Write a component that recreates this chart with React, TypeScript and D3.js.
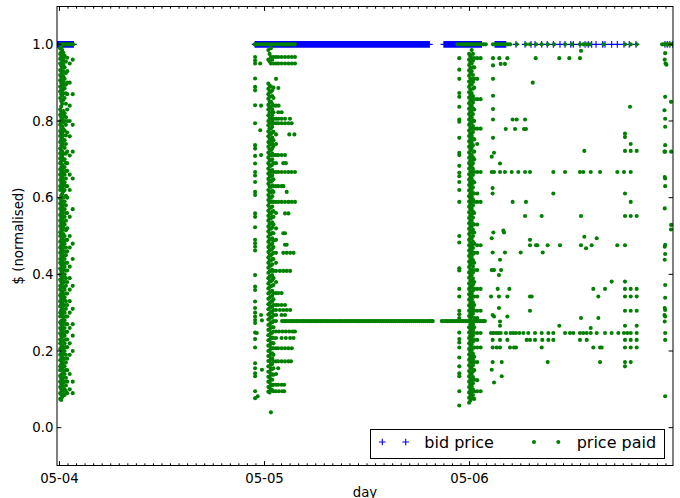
import React, { useEffect } from "react";
import * as d3 from "d3";

// ---------- axis / labels ----------
const dayLabels = ["05-04", "05-05", "05-06"];
const dayHours = [0, 24, 48];
const yTicks = [0.0, 0.2, 0.4, 0.6, 0.8, 1.0];
const xDomain: [number, number] = [-0.29, 71.82]; // hours since 05-04 00:00
const yDomain: [number, number] = [-0.1, 1.1];

// ---------- bid price (all at 1.0 normalised), times in hours ----------
const bidValue = 1.0;
const bidTimesA = [-0.29, -0.2, -0.08, 0.03, 0.15, 0.27, 0.38, 0.5, 0.6, 0.72, 0.83, 0.94, 1.05, 1.17, 1.28, 1.4, 1.5, 1.57, 1.63];
const bidTimesB = [22.9, 23.1, 23.32, 23.5, 23.71, 23.9, 24.12, 24.3, 24.5, 24.72, 24.9, 25.1, 25.31, 25.5, 25.7, 25.92, 26.1, 26.3, 26.52, 26.7, 26.9, 27.1, 27.33, 27.5, 27.7, 27.91, 28.1, 28.3, 28.52, 28.7, 28.9, 29.1, 29.32, 29.5, 29.7, 29.9, 30.12, 30.3, 30.5, 30.71, 30.9, 31.1, 31.3, 31.52, 31.7, 31.9, 32.1, 32.32, 32.5, 32.7, 32.9, 33.12, 33.3, 33.5, 33.71, 33.9, 34.1, 34.3, 34.52, 34.7, 34.9, 35.1, 35.32, 35.5, 35.7, 35.9, 36.12, 36.3, 36.5, 36.71, 36.9, 37.1, 37.3, 37.52, 37.7, 37.9, 38.1, 38.32, 38.5, 38.7, 38.9, 39.12, 39.3, 39.5, 39.71, 39.9, 40.1, 40.3, 40.52, 40.7, 40.9, 41.1, 41.32, 41.5, 41.7, 41.9, 42.12, 42.3, 42.5, 42.71, 42.9, 43.1, 43.3];
const bidTimesB2 = [23.0, 23.21, 23.41, 23.6, 23.8, 24.01, 24.21, 24.4, 24.61, 24.81, 25.0, 25.2, 25.41, 25.6, 25.81, 26.01, 26.2, 26.41, 26.61, 26.8, 27.0, 27.21, 27.41, 27.6, 27.8, 28.01, 28.2, 28.41, 28.61, 28.8, 29.0, 29.21, 29.41, 29.6, 29.8, 30.01, 30.21, 30.4, 30.61, 30.81, 31.0, 31.2, 31.41, 31.61, 31.8, 32.0, 32.21, 32.41, 32.6, 32.8, 33.01, 33.21, 33.4, 33.61, 33.8, 34.0, 34.2, 34.41, 34.61, 34.8, 35.0, 35.21, 35.41, 35.6, 35.8, 36.01, 36.21, 36.4, 36.61, 36.8, 37.0, 37.2, 37.41, 37.61, 37.8, 38.0, 38.21, 38.41, 38.6, 38.8, 39.01, 39.21, 39.4, 39.61, 39.8, 40.0, 40.2, 40.41, 40.61, 40.8, 41.0, 41.21, 41.41, 41.6, 41.8, 42.01, 42.21, 42.4, 42.61, 42.8, 43.0, 43.2];
const bidTimesC = [45.0, 45.2, 45.42, 45.6, 45.8, 46.0, 46.22, 46.4, 46.6, 46.81, 47.0, 47.2, 47.4, 47.62, 47.8, 48.0, 48.2, 48.41, 48.6, 48.8, 49.0, 49.22, 49.4, 50.99, 51.2, 51.41, 51.6, 51.8, 52.02, 52.24, 53.44, 54.5, 55.2, 55.67, 56.45, 57.1, 57.81, 58.59, 59.18, 59.85, 60.15, 60.93, 61.52, 61.9, 62.3, 62.81, 63.59, 63.86, 64.64, 65.3, 66.08, 66.7, 67.49];
const bidTimesC2 = [45.1, 45.31, 45.51, 45.7, 45.9, 46.11, 46.31, 46.5, 46.71, 46.9, 47.1, 47.3, 47.51, 47.71, 47.9, 48.1, 48.31, 48.5, 48.7, 48.9, 49.11, 49.31, 51.1, 51.3, 51.5, 51.7, 51.91, 52.12];
const bidTimesD = [70.88, 71.15, 71.45, 71.8];

// ---------- price paid ----------
// points sitting at 1.0
const paidTopA = [0.1, 0.35, 0.6, 0.85, 1.1, 1.35, 1.6];
const paidTopB = [22.85, 23.1, 23.35, 23.6, 23.85, 24.1, 24.35, 24.6, 24.85, 25.1, 25.35, 25.6, 25.85, 26.1, 26.35, 26.6, 26.85, 27.1, 27.35, 27.55];
const paidTopC = [46.6, 46.9, 47.15, 47.4, 47.65, 47.9, 48.15, 48.4, 48.65, 48.9, 49.15, 49.4, 49.65, 49.9, 50.75, 51.0, 51.25, 51.5, 51.75, 52.0, 52.25, 52.5, 52.75, 53.52, 54.61, 55.08, 55.78, 56.45, 57.15, 57.9, 59.18, 59.95, 60.93, 61.32, 61.72, 62.11, 63.67, 66.2, 66.87, 67.57];
const paidTopD = [70.55, 70.8, 71.05, 71.3, 71.55, 71.78];

// long run at 0.278
const lineValue = 0.278;
const paidLineB = [26.05, 26.3, 26.52, 26.75, 27.0, 27.22, 27.45, 27.7, 27.92, 28.15, 28.4, 28.62, 28.85, 29.1, 29.32, 29.55, 29.8, 30.02, 30.25, 30.5, 30.72, 30.95, 31.2, 31.42, 31.65, 31.9, 32.12, 32.35, 32.6, 32.82, 33.05, 33.3, 33.52, 33.75, 34.0, 34.22, 34.45, 34.7, 34.92, 35.15, 35.4, 35.62, 35.85, 36.1, 36.32, 36.55, 36.8, 37.02, 37.25, 37.5, 37.72, 37.95, 38.2, 38.42, 38.65, 38.9, 39.12, 39.35, 39.6, 39.82, 40.05, 40.3, 40.52, 40.75, 41.0, 41.22, 41.45, 41.7, 41.92, 42.15, 42.4, 42.62, 42.85, 43.1, 43.32, 43.55, 43.7];
const paidLineC = [44.75, 45.0, 45.22, 45.45, 45.7, 45.92, 46.15, 46.4, 46.62, 46.85, 47.1, 47.32, 47.55, 47.8, 48.02, 48.25, 48.5, 48.72, 48.95, 49.2, 49.42, 49.65, 49.8];

// dense columns: [hour, values]
const paidColsA: [number, number[]][] = [
  [0.08, [0.99, 0.975, 0.962, 0.95, 0.933, 0.92, 0.906, 0.89, 0.877, 0.86, 0.83, 0.816, 0.8, 0.79, 0.774, 0.761, 0.745, 0.728, 0.716, 0.702, 0.69, 0.674, 0.66, 0.646, 0.63, 0.62, 0.598, 0.585, 0.571, 0.555, 0.54, 0.526, 0.51, 0.5, 0.485, 0.47, 0.456, 0.44, 0.43, 0.415, 0.4, 0.386, 0.37, 0.36, 0.345, 0.33, 0.316, 0.3, 0.29, 0.275, 0.26, 0.246, 0.23, 0.22, 0.205, 0.19, 0.176, 0.16, 0.15, 0.135, 0.12, 0.106, 0.09, 0.075]],
  [0.2, [0.995, 0.98, 0.967, 0.944, 0.93, 0.915, 0.9, 0.884, 0.87, 0.852, 0.838, 0.824, 0.81, 0.795, 0.782, 0.768, 0.752, 0.736, 0.722, 0.71, 0.695, 0.68, 0.667, 0.652, 0.638, 0.624, 0.605, 0.592, 0.579, 0.563, 0.548, 0.534, 0.519, 0.505, 0.49, 0.476, 0.462, 0.448, 0.425, 0.41, 0.395, 0.38, 0.365, 0.35, 0.338, 0.322, 0.306, 0.292, 0.278, 0.27, 0.255, 0.24, 0.226, 0.21, 0.196, 0.18, 0.166, 0.152, 0.138, 0.128, 0.114, 0.1, 0.086, 0.072]],
  [0.32, [0.985, 0.97, 0.955, 0.94, 0.926, 0.91, 0.895, 0.88, 0.866, 0.845, 0.82, 0.805, 0.786, 0.77, 0.755, 0.74, 0.721, 0.705, 0.686, 0.67, 0.655, 0.64, 0.625, 0.61, 0.59, 0.576, 0.56, 0.545, 0.53, 0.515, 0.495, 0.48, 0.465, 0.45, 0.436, 0.42, 0.405, 0.39, 0.375, 0.355, 0.34, 0.325, 0.31, 0.296, 0.28, 0.265, 0.25, 0.236, 0.215, 0.2, 0.185, 0.17, 0.155, 0.14, 0.125, 0.11, 0.095, 0.08]],
  [0.45, [0.978, 0.962, 0.947, 0.93, 0.917, 0.902, 0.888, 0.872, 0.855, 0.826, 0.812, 0.796, 0.779, 0.763, 0.748, 0.732, 0.714, 0.697, 0.678, 0.663, 0.648, 0.632, 0.617, 0.6, 0.583, 0.568, 0.552, 0.537, 0.522, 0.505, 0.488, 0.472, 0.458, 0.443, 0.428, 0.412, 0.397, 0.382, 0.366, 0.348, 0.332, 0.318, 0.303, 0.288, 0.272, 0.258, 0.243, 0.226, 0.208, 0.193, 0.178, 0.163, 0.148, 0.132, 0.118, 0.102, 0.088]],
  [0.6, [0.97, 0.94, 0.91, 0.885, 0.86, 0.82, 0.8, 0.775, 0.75, 0.73, 0.7, 0.68, 0.66, 0.64, 0.62, 0.59, 0.57, 0.55, 0.53, 0.5, 0.48, 0.46, 0.44, 0.42, 0.4, 0.38, 0.36, 0.34, 0.32, 0.3, 0.28, 0.26, 0.24, 0.22, 0.2, 0.18, 0.16, 0.14, 0.12, 0.1, 0.085]],
  [0.75, [0.955, 0.925, 0.895, 0.872, 0.845, 0.81, 0.79, 0.762, 0.74, 0.715, 0.69, 0.67, 0.65, 0.63, 0.605, 0.58, 0.56, 0.54, 0.515, 0.49, 0.47, 0.45, 0.43, 0.41, 0.39, 0.37, 0.35, 0.33, 0.31, 0.29, 0.27, 0.25, 0.23, 0.21, 0.19, 0.17, 0.15, 0.13, 0.11, 0.095]],
  [0.9, [0.965, 0.93, 0.9, 0.87, 0.83, 0.8, 0.77, 0.72, 0.69, 0.67, 0.63, 0.6, 0.56, 0.52, 0.49, 0.46, 0.43, 0.41, 0.38, 0.35, 0.32, 0.29, 0.27, 0.25, 0.23, 0.21, 0.18, 0.15, 0.12, 0.09]],
  [1.2, [0.95, 0.9, 0.84, 0.8, 0.76, 0.71, 0.66, 0.62, 0.55, 0.5, 0.47, 0.42, 0.39, 0.36, 0.33, 0.3, 0.26, 0.22, 0.19, 0.14, 0.1]],
  [1.55, [0.96, 0.87, 0.79, 0.72, 0.65, 0.57, 0.48, 0.44, 0.37, 0.31, 0.27, 0.24, 0.2, 0.12, 0.09]],
];

const paidColsB: [number, number[]][] = [
  [22.9, [0.967, 0.958, 0.95, 0.911, 0.889, 0.88, 0.841, 0.794, 0.737, 0.728, 0.709, 0.689, 0.667, 0.658, 0.641, 0.615, 0.607, 0.559, 0.55, 0.523, 0.49, 0.481, 0.472, 0.462, 0.398, 0.368, 0.359, 0.329, 0.312, 0.3, 0.29, 0.281, 0.273, 0.248, 0.231, 0.209, 0.168, 0.155, 0.142, 0.134, 0.095, 0.077]],
  [24.45, [0.985, 0.96, 0.898, 0.884, 0.87, 0.858, 0.842, 0.83, 0.815, 0.8, 0.789, 0.773, 0.76, 0.745, 0.733, 0.718, 0.705, 0.69, 0.676, 0.663, 0.649, 0.636, 0.62, 0.607, 0.594, 0.58, 0.566, 0.553, 0.54, 0.525, 0.512, 0.498, 0.485, 0.471, 0.458, 0.444, 0.43, 0.417, 0.404, 0.39, 0.376, 0.363, 0.35, 0.336, 0.322, 0.309, 0.295, 0.282, 0.268, 0.255, 0.241, 0.228, 0.214, 0.2, 0.187, 0.174, 0.16, 0.146, 0.133, 0.12, 0.106, 0.094]],
  [24.6, [0.975, 0.955, 0.892, 0.877, 0.863, 0.85, 0.836, 0.822, 0.808, 0.795, 0.781, 0.767, 0.753, 0.74, 0.726, 0.712, 0.698, 0.684, 0.67, 0.657, 0.643, 0.629, 0.615, 0.601, 0.588, 0.574, 0.56, 0.546, 0.532, 0.519, 0.505, 0.491, 0.477, 0.463, 0.45, 0.436, 0.422, 0.408, 0.394, 0.381, 0.367, 0.353, 0.339, 0.325, 0.312, 0.298, 0.284, 0.27, 0.256, 0.243, 0.229, 0.215, 0.201, 0.187, 0.174, 0.16, 0.146, 0.132, 0.118, 0.105, 0.092]],
  [24.75, [0.99, 0.967, 0.95, 0.89, 0.876, 0.851, 0.837, 0.822, 0.806, 0.794, 0.78, 0.766, 0.75, 0.738, 0.724, 0.711, 0.697, 0.683, 0.667, 0.655, 0.642, 0.628, 0.614, 0.6, 0.589, 0.574, 0.559, 0.546, 0.532, 0.519, 0.505, 0.491, 0.477, 0.464, 0.45, 0.436, 0.423, 0.409, 0.396, 0.382, 0.369, 0.355, 0.342, 0.328, 0.315, 0.301, 0.288, 0.274, 0.261, 0.247, 0.234, 0.22, 0.207, 0.193, 0.18, 0.166, 0.153, 0.139, 0.126, 0.112, 0.099, 0.04]],
  [24.9, [0.96, 0.88, 0.865, 0.845, 0.83, 0.815, 0.8, 0.785, 0.77, 0.757, 0.742, 0.728, 0.715, 0.7, 0.686, 0.672, 0.658, 0.645, 0.632, 0.618, 0.604, 0.59, 0.577, 0.563, 0.55, 0.536, 0.522, 0.508, 0.494, 0.48, 0.467, 0.453, 0.44, 0.426, 0.412, 0.398, 0.385, 0.371, 0.357, 0.344, 0.33, 0.316, 0.303, 0.289, 0.275, 0.262, 0.248, 0.235, 0.221, 0.207, 0.194, 0.18, 0.166, 0.153, 0.139, 0.125, 0.111, 0.098]],
  [25.05, [0.967, 0.95, 0.887, 0.86, 0.84, 0.823, 0.806, 0.794, 0.772, 0.75, 0.735, 0.711, 0.69, 0.667, 0.648, 0.63, 0.615, 0.589, 0.565, 0.55, 0.53, 0.507, 0.488, 0.471, 0.456, 0.44, 0.409, 0.39, 0.372, 0.351, 0.335, 0.32, 0.307, 0.294, 0.278, 0.262, 0.251, 0.234, 0.22, 0.207, 0.19, 0.173, 0.155, 0.138, 0.112, 0.095]],
  [25.35, [0.967, 0.95, 0.91, 0.84, 0.806, 0.794, 0.765, 0.74, 0.711, 0.69, 0.667, 0.63, 0.589, 0.56, 0.52, 0.49, 0.456, 0.43, 0.409, 0.38, 0.351, 0.32, 0.307, 0.294, 0.278, 0.251, 0.234, 0.207, 0.173, 0.14, 0.112, 0.095]],
];

const paidScatterB: [number, number][] = [
  [23.5, 0.95], [23.6, 0.84], [23.5, 0.776], [23.6, 0.711], [23.6, 0.294], [23.7, 0.28], [23.1, 0.247], [23.7, 0.151], [23.2, 0.082],
  [25.62, 0.967], [26.0, 0.967], [26.4, 0.967], [26.8, 0.967], [27.2, 0.967], [27.57, 0.967],
  [25.62, 0.95], [26.0, 0.95], [26.4, 0.95], [26.8, 0.95], [27.2, 0.95], [27.57, 0.95],
  [25.62, 0.886], [25.65, 0.84], [25.62, 0.823], [26.0, 0.823],
  [25.62, 0.806], [26.0, 0.806], [26.4, 0.806], [26.98, 0.806],
  [25.62, 0.794], [26.0, 0.794], [26.4, 0.794], [26.8, 0.794], [27.18, 0.794],
  [26.9, 0.765], [27.5, 0.765],
  [25.62, 0.711], [26.0, 0.711], [26.4, 0.711], [26.2, 0.69], [26.5, 0.69],
  [25.62, 0.667], [26.0, 0.667], [26.4, 0.667], [26.8, 0.667], [27.18, 0.667], [27.57, 0.667],
  [25.62, 0.63], [26.0, 0.63], [26.2, 0.63], [26.6, 0.615],
  [25.62, 0.589], [26.0, 0.589], [26.4, 0.589], [26.8, 0.589], [27.18, 0.589], [27.57, 0.589],
  [26.4, 0.559], [26.8, 0.559], [26.2, 0.507], [26.4, 0.507], [26.4, 0.477], [26.6, 0.477],
  [26.2, 0.456], [26.6, 0.456], [27.0, 0.456], [27.4, 0.456],
  [25.8, 0.409], [26.2, 0.409], [26.6, 0.409], [27.0, 0.409],
  [25.62, 0.351], [26.0, 0.351], [25.6, 0.32], [26.0, 0.32], [26.4, 0.32],
  [25.8, 0.307], [26.2, 0.307], [26.6, 0.307], [27.0, 0.307], [26.0, 0.294], [26.4, 0.294],
  [25.7, 0.251], [26.1, 0.251], [26.5, 0.251], [26.9, 0.251], [27.3, 0.251], [27.57, 0.251],
  [26.0, 0.234], [26.5, 0.234], [27.0, 0.234], [27.4, 0.234],
  [25.6, 0.207], [26.0, 0.207], [26.4, 0.207], [26.8, 0.207], [27.2, 0.207],
  [25.6, 0.173], [26.0, 0.173], [26.4, 0.173], [26.8, 0.173], [27.1, 0.173],
  [25.6, 0.155], [25.6, 0.112], [26.0, 0.112], [26.3, 0.112], [25.7, 0.095], [26.1, 0.095], [26.3, 0.095],
];

const paidColsC: [number, number[]][] = [
  [46.8, [0.964, 0.934, 0.91, 0.873, 0.863, 0.837, 0.804, 0.798, 0.756, 0.717, 0.711, 0.683, 0.665, 0.656, 0.641, 0.62, 0.589, 0.5, 0.483, 0.416, 0.41, 0.362, 0.342, 0.305, 0.296, 0.286, 0.248, 0.231, 0.222, 0.209, 0.183, 0.16, 0.142, 0.134, 0.095, 0.058]],
  [47.95, [0.975, 0.96, 0.946, 0.932, 0.918, 0.903, 0.889, 0.875, 0.861, 0.846, 0.832, 0.818, 0.804, 0.79, 0.775, 0.761, 0.747, 0.733, 0.718, 0.704, 0.69, 0.676, 0.661, 0.647, 0.633, 0.619, 0.604, 0.59, 0.576, 0.562, 0.547, 0.533, 0.519, 0.505, 0.49, 0.476, 0.462, 0.448, 0.433, 0.419, 0.405, 0.391, 0.376, 0.362, 0.348, 0.334, 0.319, 0.305, 0.291, 0.262, 0.248, 0.234, 0.22, 0.205, 0.191, 0.177, 0.163, 0.148, 0.134, 0.12, 0.106, 0.092, 0.078, 0.065]],
  [48.1, [0.968, 0.953, 0.939, 0.925, 0.911, 0.896, 0.882, 0.868, 0.853, 0.839, 0.825, 0.811, 0.797, 0.782, 0.768, 0.754, 0.74, 0.725, 0.711, 0.697, 0.683, 0.668, 0.654, 0.64, 0.626, 0.611, 0.597, 0.583, 0.569, 0.554, 0.54, 0.526, 0.512, 0.497, 0.483, 0.469, 0.455, 0.44, 0.426, 0.412, 0.398, 0.383, 0.369, 0.355, 0.341, 0.326, 0.312, 0.298, 0.284, 0.27, 0.255, 0.241, 0.227, 0.213, 0.198, 0.184, 0.17, 0.156, 0.141, 0.127, 0.113, 0.099, 0.085, 0.071]],
  [48.25, [0.985, 0.964, 0.95, 0.93, 0.91, 0.895, 0.873, 0.857, 0.84, 0.826, 0.81, 0.795, 0.78, 0.762, 0.745, 0.73, 0.712, 0.698, 0.683, 0.667, 0.65, 0.635, 0.62, 0.604, 0.589, 0.572, 0.556, 0.54, 0.524, 0.509, 0.493, 0.476, 0.461, 0.445, 0.43, 0.412, 0.397, 0.381, 0.366, 0.35, 0.335, 0.32, 0.305, 0.29, 0.262, 0.247, 0.232, 0.216, 0.2, 0.186, 0.171, 0.155, 0.14, 0.124, 0.108, 0.093, 0.076]],
  [48.4, [0.975, 0.957, 0.94, 0.92, 0.902, 0.884, 0.865, 0.848, 0.833, 0.818, 0.802, 0.787, 0.771, 0.754, 0.737, 0.721, 0.705, 0.69, 0.675, 0.659, 0.643, 0.627, 0.612, 0.596, 0.58, 0.564, 0.548, 0.532, 0.516, 0.5, 0.485, 0.469, 0.453, 0.437, 0.421, 0.405, 0.389, 0.373, 0.357, 0.342, 0.327, 0.312, 0.297, 0.27, 0.255, 0.24, 0.224, 0.208, 0.193, 0.178, 0.163, 0.147, 0.132, 0.116, 0.1, 0.085]],
  [48.55, [0.964, 0.94, 0.91, 0.887, 0.857, 0.83, 0.8, 0.78, 0.752, 0.72, 0.7, 0.667, 0.64, 0.611, 0.589, 0.56, 0.53, 0.509, 0.48, 0.456, 0.43, 0.411, 0.38, 0.362, 0.342, 0.32, 0.305, 0.286, 0.262, 0.247, 0.229, 0.209, 0.185, 0.171, 0.15, 0.125, 0.095, 0.075]],
  [48.9, [0.964, 0.91, 0.857, 0.78, 0.74, 0.667, 0.611, 0.589, 0.53, 0.476, 0.456, 0.411, 0.362, 0.342, 0.305, 0.286, 0.247, 0.229, 0.209, 0.171, 0.124, 0.095]],
  [49.3, [0.964, 0.857, 0.78, 0.667, 0.589, 0.476, 0.362, 0.305, 0.247, 0.209, 0.095]],
];

const paidScatterC: [number, number][] = [
  [51.49, 0.964], [52.43, 0.964], [51.65, 0.949], [52.15, 0.949], [55.75, 0.964], [58.51, 0.964], [59.68, 0.964], [60.93, 0.964], [61.05, 0.983],
  [55.4, 0.9], [53.05, 0.804], [53.52, 0.804], [54.5, 0.804], [52.24, 0.779], [53.33, 0.779], [54.38, 0.779], [54.61, 0.779],
  [66.79, 0.837], [66.2, 0.767], [66.2, 0.758], [66.87, 0.74], [66.2, 0.722], [66.87, 0.722], [67.57, 0.722], [61.44, 0.722],
  [51.57, 0.689], [50.87, 0.717], [50.6, 0.707],
  [50.75, 0.964], [50.75, 0.945], [50.75, 0.91], [50.75, 0.866], [50.75, 0.831], [50.75, 0.804], [50.75, 0.756], [50.7, 0.625], [50.7, 0.611],
  [50.6, 0.667], [50.87, 0.667], [51.57, 0.667], [52.15, 0.667], [52.94, 0.667], [53.71, 0.667], [54.5, 0.667], [55.08, 0.667], [57.81, 0.667], [59.18, 0.667], [60.93, 0.667], [61.32, 0.667], [62.19, 0.667], [63.28, 0.667], [65.3, 0.667], [66.08, 0.667], [66.87, 0.667],
  [57.81, 0.611], [66.2, 0.611], [53.05, 0.589], [54.61, 0.589], [66.87, 0.589],
  [54.5, 0.552], [56.45, 0.552], [61.05, 0.552], [66.2, 0.552], [66.87, 0.552], [67.57, 0.552],
  [50.79, 0.509], [51.96, 0.514], [52.04, 0.509], [61.44, 0.498], [62.89, 0.494], [55.08, 0.49], [50.6, 0.494],
  [55.08, 0.476], [55.78, 0.476], [55.94, 0.476], [57.15, 0.476], [58.59, 0.476], [61.05, 0.476], [62.3, 0.476], [65.3, 0.476], [66.2, 0.476], [61.64, 0.468],
  [50.71, 0.457], [52.15, 0.457], [53.99, 0.457], [56.57, 0.457], [51.57, 0.438],
  [50.6, 0.411], [50.87, 0.411], [51.69, 0.411], [51.45, 0.398], [64.64, 0.381], [66.2, 0.381],
  [51.3, 0.362], [52.66, 0.362], [62.49, 0.362], [63.86, 0.362], [66.2, 0.362], [66.87, 0.362], [67.57, 0.362],
  [50.52, 0.342], [51.45, 0.342], [52.43, 0.342], [55.08, 0.342], [55.28, 0.342], [63.08, 0.342], [66.2, 0.342], [66.87, 0.342], [67.57, 0.342],
  [51.45, 0.312], [55.08, 0.305], [66.2, 0.305], [66.87, 0.305], [67.57, 0.305],
  [50.71, 0.294], [50.87, 0.29], [61.05, 0.286], [63.08, 0.286], [51.57, 0.277], [52.43, 0.29],
  [51.57, 0.266], [58.51, 0.266], [66.2, 0.266], [67.57, 0.266], [62.19, 0.26],
  [50.52, 0.247], [50.79, 0.247], [51.1, 0.247], [51.37, 0.247], [51.65, 0.247], [52.27, 0.247], [52.82, 0.247], [53.13, 0.247], [53.44, 0.247], [53.83, 0.247], [54.3, 0.247], [54.88, 0.247], [55.67, 0.247], [56.45, 0.247], [57.23, 0.247], [57.81, 0.247], [59.18, 0.247], [59.76, 0.247], [60.15, 0.247], [60.93, 0.247], [61.32, 0.247], [61.72, 0.247], [62.19, 0.247], [62.89, 0.247], [63.86, 0.247], [64.64, 0.247], [65.42, 0.247], [66.08, 0.247], [66.47, 0.247], [66.87, 0.247], [67.57, 0.247],
  [50.71, 0.229], [51.57, 0.229], [52.43, 0.229], [54.69, 0.229], [55.08, 0.229], [55.67, 0.229], [56.52, 0.229], [57.23, 0.229], [57.81, 0.229], [60.93, 0.229], [61.72, 0.229], [66.2, 0.229], [66.87, 0.229], [67.57, 0.229],
  [50.71, 0.209], [51.18, 0.209], [51.57, 0.209], [52.74, 0.209], [53.21, 0.209], [53.44, 0.209], [56.45, 0.209], [62.49, 0.209], [63.28, 0.209], [63.47, 0.209], [66.2, 0.209], [66.87, 0.209], [67.57, 0.209],
  [50.71, 0.171], [51.77, 0.171], [57.15, 0.171], [63.28, 0.171], [66.2, 0.171], [66.87, 0.171],
  [66.2, 0.16], [50.6, 0.151], [51.77, 0.134], [50.87, 0.118],
];

const paidScatterD: [number, number][] = [
  [70.9, 0.977], [70.85, 0.96], [70.95, 0.95], [71.05, 0.947], [70.9, 0.863], [71.58, 0.85], [70.82, 0.828], [70.9, 0.806], [70.9, 0.785], [70.9, 0.737], [70.82, 0.72], [70.9, 0.72], [71.6, 0.72],
  [70.85, 0.654], [70.9, 0.65], [70.9, 0.63], [70.85, 0.572], [71.6, 0.529], [71.58, 0.517], [70.9, 0.477], [70.85, 0.472], [70.9, 0.453], [70.85, 0.438],
  [70.9, 0.372], [70.9, 0.339], [70.85, 0.312], [70.9, 0.307], [70.82, 0.294], [70.9, 0.29], [70.85, 0.277], [70.9, 0.247], [70.9, 0.229], [70.9, 0.082],
];

const legendLabels = ["bid price", "price paid"];
const BLUE = "#0000ff";
const GREEN = "#008000";
const FONT = "'DejaVu Sans', sans-serif";

export default function App() {
  useEffect(() => {
    document.body.style.margin = "0";
  }, []);

  const L = 57, R = 673, T = 6.5, B = 465.5;
  const x = d3.scaleLinear().domain(xDomain).range([L, R]);
  const y = d3.scaleLinear().domain(yDomain).range([466, 6]);

  const bidTimes = [...bidTimesA, ...bidTimesB, ...bidTimesB2, ...bidTimesC, ...bidTimesC2, ...bidTimesD];
  const paid: [number, number][] = [
    ...[...paidTopA, ...paidTopB, ...paidTopC, ...paidTopD].map((t) => [t, 1.0] as [number, number]),
    ...[...paidLineB, ...paidLineC].map((t) => [t, lineValue] as [number, number]),
    ...[...paidColsA, ...paidColsB, ...paidColsC].flatMap(([t, vs]) => vs.map((v) => [t, v] as [number, number])),
    ...paidScatterB,
    ...paidScatterC,
    ...paidScatterD,
  ];

  const ms = 3.33; // half marker size
  const plusPath = (cx: number, cy: number) =>
    `M${cx - ms},${cy}H${cx + ms}M${cx},${cy - ms}V${cy + ms}`;

  const minorHours = d3.range(1, 72).filter((h) => h % 24 !== 0);

  return (
    <svg width={680} height={498} style={{ position: "absolute", left: 0, top: 0, background: "#fff" }} fontFamily={FONT}>
      <defs>
        <clipPath id="plotclip">
          <rect x={L} y={T - 0.5} width={R - L} height={B - T + 1} />
        </clipPath>
      </defs>
      <rect x={0} y={0} width={680} height={498} fill="#fff" />
      <g clipPath="url(#plotclip)">
        <path
          d={bidTimes.map((t) => plusPath(x(t), y(bidValue))).join("")}
          stroke={BLUE}
          strokeWidth={1.1}
          fill="none"
        />
        {paid.map(([t, v], i) => (
          <circle key={i} cx={x(t)} cy={y(v)} r={2.05} fill={GREEN} />
        ))}
      </g>

      {/* frame */}
      <rect x={L} y={T} width={R - L} height={B - T} fill="none" stroke="#000" strokeWidth={1} />

      {/* x ticks */}
      {dayHours.map((h) => (
        <g key={"xM" + h}>
          <line x1={x(h)} x2={x(h)} y1={B} y2={B - 4.4} stroke="#000" strokeWidth={1} />
          <line x1={x(h)} x2={x(h)} y1={T} y2={T + 4.4} stroke="#000" strokeWidth={1} />
        </g>
      ))}
      {minorHours.map((h) => (
        <g key={"xm" + h}>
          <line x1={x(h)} x2={x(h)} y1={B} y2={B - 2.2} stroke="#000" strokeWidth={1} />
          <line x1={x(h)} x2={x(h)} y1={T} y2={T + 2.2} stroke="#000" strokeWidth={1} />
        </g>
      ))}
      {dayLabels.map((lab, i) => (
        <text key={lab} x={x(dayHours[i])} y={483.3} fontSize={13.3} textAnchor="middle" fill="#000">
          {lab}
        </text>
      ))}

      {/* y ticks */}
      {yTicks.map((v) => (
        <g key={"y" + v}>
          <line x1={L} x2={L + 4.4} y1={y(v)} y2={y(v)} stroke="#000" strokeWidth={1} />
          <line x1={R} x2={R - 4.4} y1={y(v)} y2={y(v)} stroke="#000" strokeWidth={1} />
          <text x={53.5} y={y(v) + 4.8} fontSize={13.3} textAnchor="end" fill="#000">
            {v.toFixed(1)}
          </text>
        </g>
      ))}

      {/* axis labels */}
      <text x={(L + R) / 2} y={496.5} fontSize={13.3} textAnchor="middle" fill="#000">day</text>
      <text transform={`translate(23,236) rotate(-90)`} fontSize={13.3} textAnchor="middle" fill="#000">
        $ (normalised)
      </text>

      {/* legend */}
      <g>
        <rect x={370.5} y={429.5} width={294} height={29} fill="#fff" stroke="#000" strokeWidth={1} />
        <path d={plusPath(382.3, 442) + plusPath(405.7, 442)} stroke={BLUE} strokeWidth={1.1} fill="none" />
        <text x={424.3} y={448.3} fontSize={16} fill="#000">{legendLabels[0]}</text>
        <circle cx={534} cy={442} r={2.05} fill={GREEN} />
        <circle cx={558.3} cy={442} r={2.05} fill={GREEN} />
        <text x={576.7} y={448.3} fontSize={16} fill="#000">{legendLabels[1]}</text>
      </g>
    </svg>
  );
}
